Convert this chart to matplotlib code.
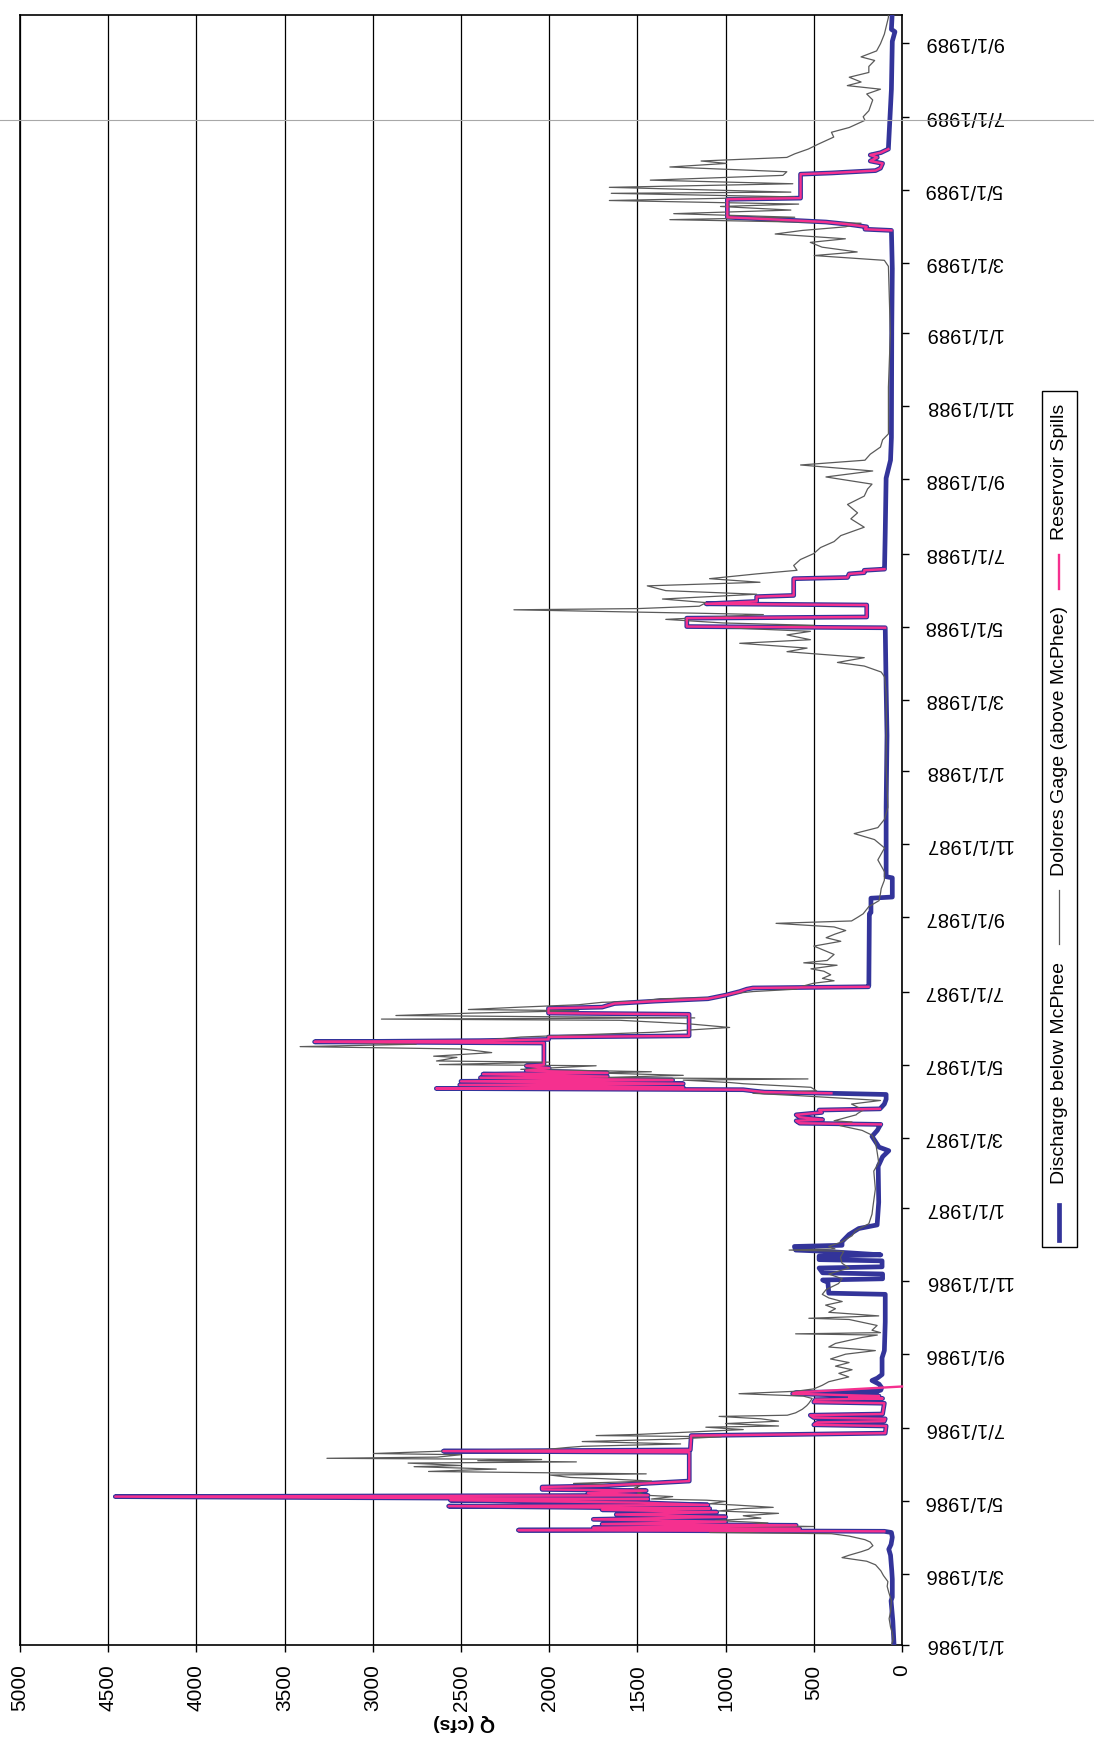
import matplotlib
matplotlib.use("Agg")
import matplotlib.pyplot as plt
import matplotlib.dates as mdates
import numpy as np
import pandas as pd
from matplotlib.lines import Line2D
from matplotlib.patches import Rectangle

plt.rcParams["font.family"] = ["Liberation Sans", "DejaVu Sans"]

W, H = 1094, 1742
START = pd.Timestamp("1986-01-01")

# flows as (days since 1/1/1986, cfs)
base_1986_winter = [(0, 45), (8, 48), (20, 52), (30, 58), (37, 62), (40, 55), (55, 55), (62, 58),
                    (75, 65), (80, 75), (84, 62), (90, 55), (94, 60)]

spill_1986 = [(95, 100), (96, 2175), (97, 580), (98, 1750), (100, 600), (101, 1700), (103, 1000),
              (105, 1750), (107, 1000), (109, 1620), (111, 1050), (113, 1700), (114, 1090),
              (116, 2570), (117, 1100), (119, 1500), (121, 2560), (122, 1440), (124, 4460),
              (125, 1440), (127, 1780), (129, 1450), (130, 2040), (132, 2040), (133, 1700),
              (135, 1450), (137, 1206), (161, 1206), (162, 2600), (163, 1200), (175, 1195),
              (176, 600), (177, 95), (183, 90), (184, 500), (186, 480), (187, 100), (189, 95),
              (190, 500), (192, 520), (193, 110), (202, 100), (203, 500), (205, 490),
              (206, 110), (207, 300), (208, 130), (210, 620), (211, 600)]
spill_1986_close = [(216, 0)]

base_1986_fall = [(212, 140), (213, 120), (215, 115), (218, 130), (221, 170), (223, 140),
                  (226, 113), (240, 113), (246, 100), (270, 95), (293, 95), (294, 415),
                  (303, 420), (305, 450), (306, 110), (310, 110), (311, 450), (315, 470),
                  (316, 113), (321, 113), (322, 470), (325, 470), (326, 120), (329, 440),
                  (330, 603), (333, 610), (334, 340), (337, 340), (343, 300), (348, 245),
                  (351, 141), (370, 132), (400, 135), (408, 110), (413, 75), (416, 130),
                  (425, 170), (430, 140), (434, 125)]

spill_1987_march = [(435, 120), (436, 580), (438, 600), (439, 450), (441, 580), (443, 600),
                    (444, 530), (445, 455), (447, 470), (448, 125)]

base_1987_spring = [(452, 100), (456, 90), (460, 90)]

spill_1987 = [(461, 400), (462, 780), (463, 845), (464, 900), (465, 2640), (466, 1240),
              (468, 2507), (469, 1240), (471, 2500), (472, 1300), (474, 2390), (475, 1670),
              (477, 2375), (478, 1670), (480, 2130), (482, 2000), (484, 2130), (485, 2030),
              (503, 2030), (504, 3330), (505, 2390), (506, 2004), (508, 2004), (509, 1207),
              (527, 1207), (528, 2004), (532, 2004), (533, 1700), (536, 1630), (538, 1400),
              (540, 1100), (543, 1000), (546, 920), (548, 880), (549, 845), (550, 190)]

base_1987_fall = [(551, 188), (611, 185), (612, 176), (624, 176), (625, 55), (641, 55),
                  (642, 90), (700, 90), (760, 85), (800, 90), (849, 95)]

spill_1988 = [(850, 95), (851, 1220), (858, 1220), (859, 200), (869, 200), (870, 1110),
              (872, 824), (876, 824), (877, 614), (891, 614), (892, 309), (895, 300),
              (896, 214), (898, 214), (899, 99)]

base_1988 = [(900, 99), (930, 95), (975, 90), (990, 65), (1009, 60), (1100, 58), (1150, 55),
             (1181, 60)]

spill_1989 = [(1182, 60), (1183, 210), (1185, 200), (1187, 300), (1189, 431), (1191, 700),
              (1193, 990), (1208, 990), (1209, 575), (1229, 575), (1230, 400), (1232, 150),
              (1234, 122), (1238, 110), (1240, 180), (1243, 140), (1245, 180), (1247, 120),
              (1250, 77)]

base_1989 = [(1251, 77), (1300, 60), (1340, 55), (1348, 40), (1350, 60), (1365, 55)]

gage = [(0, 60), (5, 50), (10, 55), (15, 65), (22, 73), (28, 65), (37, 60), (44, 75), (49, 84),
        (53, 80), (58, 105), (62, 120), (67, 150), (70, 200), (73, 340), (75, 300), (78, 230),
        (80, 190), (83, 165), (86, 180), (88, 210), (91, 300), (93, 400), (94, 1090), (95, 770),
        (97, 860), (98, 1058), (99, 500), (100, 900), (102, 760), (104, 1058), (106, 800),
        (108, 900), (110, 700), (112, 1040), (114, 900), (115, 730), (117, 950), (118, 1090),
        (120, 1000), (121, 1107), (122, 1420), (124, 1300), (125, 1436), (127, 1500),
        (129, 1450), (131, 1518), (133, 1485), (135, 1862), (137, 1420), (139, 1700),
        (140, 1880), (142, 1994), (143, 1450), (145, 2684), (146, 2503), (147, 2300),
        (149, 2766), (150, 2500), (152, 2800), (153, 1846), (154, 2405), (155, 2043),
        (156, 3260), (157, 2635), (159, 2500), (160, 2996), (162, 2600), (163, 2043),
        (165, 1900), (166, 1813), (168, 1255), (170, 1813), (172, 1300), (174, 1025),
        (175, 1734), (176, 1490), (178, 1200), (180, 900), (182, 1112), (183, 700), (185, 1000),
        (187, 700), (189, 800), (191, 1037), (192, 650), (194, 603), (197, 565), (200, 540),
        (202, 528), (206, 509), (208, 560), (210, 924), (212, 603), (214, 500), (217, 452),
        (220, 415), (224, 302), (227, 358), (230, 283), (233, 377), (236, 300), (239, 405),
        (243, 320), (246, 151), (249, 415), (252, 377), (257, 226), (259, 140), (260, 603),
        (261, 122), (263, 170), (267, 141), (272, 300), (273, 528), (275, 132), (278, 415),
        (281, 377), (284, 433), (287, 339), (290, 415), (293, 452), (297, 430), (302, 360),
        (306, 339), (310, 415), (315, 300), (319, 340), (324, 349), (329, 330), (330, 640),
        (331, 380), (333, 415), (337, 339), (342, 283), (346, 264), (352, 188), (360, 170),
        (366, 165), (381, 151), (396, 160), (403, 132), (411, 140), (420, 150), (426, 170),
        (430, 226), (434, 352), (437, 283), (438, 385), (443, 260), (444, 253), (447, 220),
        (449, 245), (452, 286), (455, 122), (459, 582), (461, 845), (463, 484), (466, 516),
        (469, 900), (470, 977), (472, 1240), (473, 533), (474, 1734), (476, 1240), (478, 1734),
        (479, 1421), (481, 2161), (484, 1734), (485, 2622), (487, 1997), (488, 2639),
        (491, 2523), (492, 2655), (495, 2326), (498, 2490), (500, 3412), (502, 2754),
        (504, 3329), (505, 2392), (508, 2161), (510, 1800), (512, 1405), (516, 977),
        (519, 1207), (522, 1600), (523, 2951), (524, 1175), (526, 2869), (528, 2441),
        (530, 1833), (531, 2458), (533, 2161), (535, 1833), (537, 1701), (538, 1471),
        (540, 1372), (541, 1043), (543, 1010), (545, 911), (546, 845), (548, 600), (550, 576),
        (553, 500), (555, 385), (557, 451), (560, 404), (563, 443), (565, 516), (568, 368),
        (570, 557), (572, 424), (577, 385), (581, 450), (584, 500), (588, 347), (591, 430),
        (594, 380), (597, 319), (600, 385), (603, 714), (605, 286), (608, 252), (611, 220),
        (617, 188), (622, 130), (628, 122), (632, 118), (639, 100), (646, 99), (656, 137),
        (666, 99), (673, 156), (678, 271), (683, 137), (690, 99), (700, 80), (735, 90),
        (769, 88), (796, 90), (809, 99), (813, 118), (818, 214), (821, 366), (825, 214),
        (830, 652), (833, 538), (837, 920), (840, 519), (844, 652), (847, 519), (850, 996),
        (852, 500), (854, 1015), (857, 1339), (861, 786), (862, 1110), (865, 2200),
        (866, 1500), (868, 1149), (871, 1110), (874, 1358), (878, 824), (881, 1339),
        (885, 1444), (888, 805), (891, 1091), (895, 824), (898, 595), (902, 614), (907, 576),
        (912, 500), (917, 462), (922, 385), (927, 347), (934, 214), (941, 290), (946, 252),
        (953, 309), (960, 214), (966, 195), (970, 170), (976, 431), (981, 166), (986, 575),
        (990, 210), (995, 180), (1001, 122), (1007, 110), (1012, 77), (1026, 77), (1051, 77),
        (1096, 66), (1152, 77), (1157, 100), (1161, 498), (1164, 254), (1168, 453),
        (1172, 520), (1175, 321), (1179, 719), (1182, 564), (1185, 321), (1188, 232),
        (1191, 1316), (1193, 608), (1196, 1294), (1199, 630), (1202, 1029), (1204, 586),
        (1207, 1659), (1210, 608), (1213, 1648), (1214, 630), (1218, 1659), (1221, 619),
        (1224, 1427), (1228, 675), (1231, 653), (1235, 1316), (1238, 995), (1240, 1139),
        (1243, 653), (1246, 608), (1250, 531), (1254, 476), (1260, 387), (1264, 400),
        (1268, 299), (1274, 210), (1277, 220), (1282, 188), (1291, 166), (1296, 200),
        (1300, 122), (1303, 310), (1306, 232), (1310, 299), (1314, 188), (1319, 188),
        (1324, 155), (1327, 232), (1332, 144), (1338, 122), (1346, 100), (1360, 77), (1365, 77)]

q_ticks = list(range(0, 5001, 500))
date_ticks = pd.date_range("1986-01-01", "1989-09-01", freq="2MS")
day_span = 1362

start_num = mdates.date2num(START)


def unpack(points):
    days = np.array([p[0] for p in points], dtype=float)
    cfs = np.array([p[1] for p in points], dtype=float)
    return start_num + days, cfs


def join_gaps(*pieces):
    # NaN between pieces so the spill line breaks
    out = []
    for i, piece in enumerate(pieces):
        if i:
            out.append((piece[0][0], np.nan))
        out.extend(piece)
    return out


discharge = (base_1986_winter + spill_1986 + base_1986_fall + spill_1987_march +
             base_1987_spring + spill_1987 + base_1987_fall + spill_1988 + base_1988 +
             spill_1989 + base_1989)
spills = join_gaps(spill_1986 + spill_1986_close, spill_1987_march, spill_1987,
                   spill_1988, spill_1989)


def fx(px):
    return px / W


def fy(py):
    return 1 - py / H


fig = plt.figure(figsize=(W / 100, H / 100), dpi=100)
ax = fig.add_axes([fx(20), fy(1645), fx(902) - fx(20), fy(15) - fy(1645)])

d_y, d_q = unpack(discharge)
g_y, g_q = unpack(gage)
s_y, s_q = unpack(spills)

ax.plot(d_q, d_y, color="#33349a", lw=3.4, solid_joinstyle="round", zorder=3)
ax.plot(g_q, g_y, color="#5a5a5a", lw=0.9, zorder=4)
ax.plot(s_q, s_y, color="#f5308f", lw=1.7, zorder=5, clip_on=False)

ax.set_xlim(5000, 0)
ax.set_ylim(start_num, start_num + day_span)

ax.set_xticks(q_ticks)
ax.set_xticklabels([str(q) for q in q_ticks], rotation=90,
                   family=["Liberation Sans Narrow", "Liberation Sans"], fontsize=15)
ax.set_yticks(mdates.date2num(date_ticks))
ax.set_yticklabels([f"{d.month}/{d.day}/{d.year}" for d in date_ticks], rotation=180,
                   fontsize=14.5, va="center")
ax.yaxis.tick_right()
ax.tick_params(axis="x", direction="out", length=5, width=1, pad=9)
ax.tick_params(axis="y", direction="out", length=5, width=1, pad=11)

ax.grid(axis="x", color="black", lw=0.9)
ax.grid(axis="y", visible=False)
for s in ax.spines.values():
    s.set_linewidth(1.2)
    s.set_color("black")

fig.text(fx(464), fy(1722), "Q (cfs)", rotation=180, ha="center", va="center",
         fontsize=14, fontweight="bold")

# legend drawn by hand, rotated with the chart
fig.add_artist(Rectangle((fx(1042), fy(1247)), fx(1077) - fx(1042), fy(391) - fy(1247),
                         fill=False, ec="black", lw=1.0, transform=fig.transFigure))
lx = fx(1059)
fig.add_artist(Line2D([lx, lx], [fy(1240), fy(1205)], color="#33349a", lw=3.4))
fig.add_artist(Line2D([lx, lx], [fy(944), fy(890)], color="#5a5a5a", lw=0.9))
fig.add_artist(Line2D([lx, lx], [fy(589), fy(555)], color="#f5308f", lw=1.7))
fig.text(fx(1060), fy(1073), "Discharge below McPhee", rotation=90, ha="center", va="center",
         fontsize=14)
fig.text(fx(1060), fy(741), "Dolores Gage (above McPhee)", rotation=90, ha="center",
         va="center", fontsize=14)
fig.text(fx(1060), fy(472), "Reservoir Spills", rotation=90, ha="center", va="center",
         fontsize=14)

# faint scan line across the page
fig.add_artist(Line2D([0, 1], [fy(120), fy(120)], color="#a8a8a8", lw=0.8))

fig.savefig("out.png", dpi=100)
